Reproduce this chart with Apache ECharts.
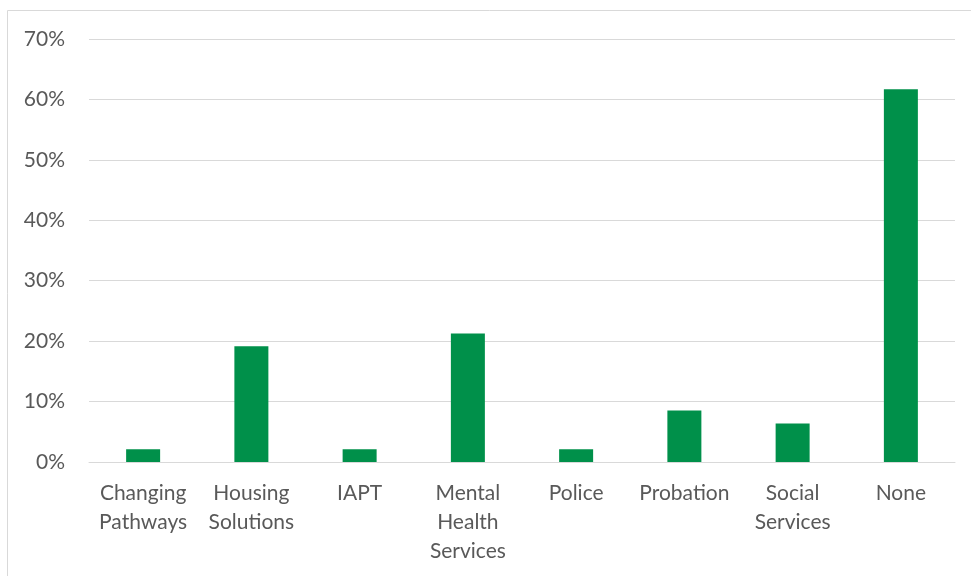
<!DOCTYPE html>
<html>
<head>
<meta charset="utf-8">
<script src="https://cdn.jsdelivr.net/npm/echarts@6/dist/echarts.min.js"></script>
<style>html,body{margin:0;padding:0;background:#fff}#c{width:971px;height:576px}</style>
</head>
<body>
<div id="c"></div>
<script>
const categories = ['Changing\nPathways', 'Housing\nSolutions', 'IAPT', 'Mental\nHealth\nServices', 'Police', 'Probation', 'Social\nServices', 'None'];
const values = [2.13, 19.15, 2.13, 21.28, 2.13, 8.51, 6.38, 61.70];
const yTicks = [0, 10, 20, 30, 40, 50, 60, 70];

const chart = echarts.init(document.getElementById('c'), null, {renderer: 'canvas'});
const font = 'Lato, "Open Sans", sans-serif';
chart.setOption({
  animation: false,
  graphic: [{
    type: 'rect', shape: {x: 7.5, y: 10.5, width: 1000, height: 600},
    style: {fill: 'none', stroke: '#d9d9d9', lineWidth: 1}, silent: true
  }],
  grid: {left: 89, right: 16, top: 39, bottom: 114, containLabel: false},
  xAxis: {
    type: 'category', data: categories,
    axisLine: {lineStyle: {color: '#d9d9d9', width: 1}},
    axisTick: {show: false},
    axisLabel: {color: '#595959', fontFamily: font, fontSize: 21, lineHeight: 29, margin: 17, interval: 0}
  },
  yAxis: {
    type: 'value', min: yTicks[0], max: yTicks[yTicks.length - 1], interval: 10,
    axisLine: {show: false}, axisTick: {show: false},
    splitLine: {lineStyle: {color: '#d9d9d9', width: 1}},
    axisLabel: {color: '#595959', fontFamily: font, fontSize: 21, margin: 24, formatter: v => v + '%'}
  },
  series: [{
    type: 'bar', data: values, barWidth: 34,
    itemStyle: {color: '#00904a'}
  }]
});
</script>
</body>
</html>
